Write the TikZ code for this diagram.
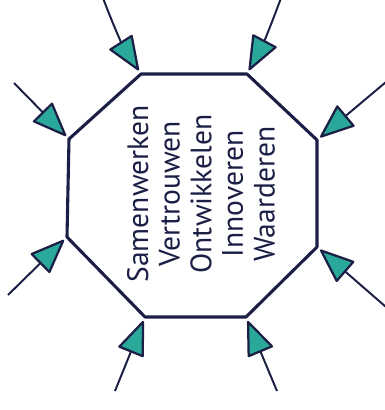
\documentclass[tikz,border=0pt]{standalone}
\usepackage{fontspec}
\setmainfont{PT Sans}
\usetikzlibrary{arrows.meta,positioning,calc}
\definecolor{inknavy}{RGB}{28,31,69}
\definecolor{hatchteal}{RGB}{42,169,154}

\begin{document}
\begin{tikzpicture}[
  x=0.025cm, y=-0.025cm,
  octline/.style={draw=inknavy, line width=2.2pt, line join=round, line cap=round},
  inarrow/.style={-{Triangle[length=9mm,width=7mm,fill=hatchteal,round,line width=1.6pt]}, line width=1.4pt, draw=inknavy, shorten >=3pt},
  valuetext/.style={rotate=90, align=center, text=inknavy, font=\fontsize{21}{22.5}\selectfont}
]
\useasboundingbox (0,0) rectangle (384,410);
% corners of the octagon
\coordinate (tl) at (141,74);
\coordinate (tr) at (247,74);
\coordinate (rt) at (317,140);
\coordinate (rb) at (317,247);
\coordinate (br) at (246,317);
\coordinate (bl) at (145,317);
\coordinate (lb) at (67,237);
\coordinate (lt) at (69,139);
\draw[octline] (tl) -- (tr) -- (rt) -- (rb) -- (br) -- (bl) -- (lb) -- (lt) -- cycle;

\node[valuetext] (values) at (201,194) {Samenwerken\\Vertrouwen\\Ontwikkelen\\Innoveren\\Waarderen};

% free ends of the incoming arrows
\coordinate (s1) at (103,-2);
\coordinate (s2) at (281,-2);
\coordinate (s3) at (386,82);
\coordinate (s4) at (14,83);
\coordinate (s5) at (8,295);
\coordinate (s6) at (386,307);
\coordinate (s7) at (115,391);
\coordinate (s8) at (277,391);

\draw[inarrow] (s1) to[bend right=6] (tl);
\draw[inarrow] (s2) to[bend left=4] (tr);
\draw[inarrow] (s3) -- (rt);
\draw[inarrow] (s4) -- (lt);
\draw[inarrow] (s5) -- (lb);
\draw[inarrow] (s6) -- (rb);
\draw[inarrow] (s7) -- (bl);
\draw[inarrow] (s8) -- (br);
\end{tikzpicture}
\end{document}
